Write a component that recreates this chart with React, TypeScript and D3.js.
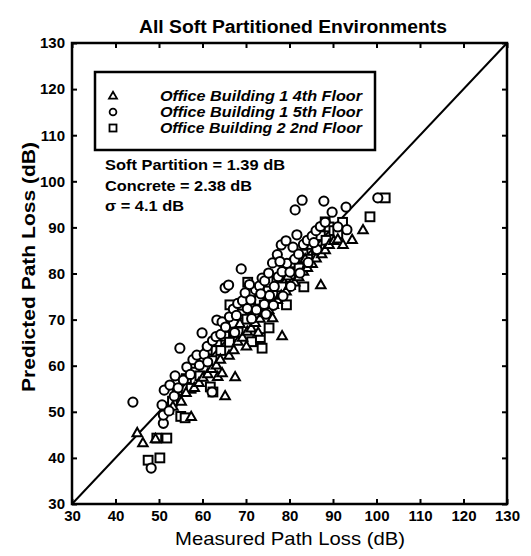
import React, { useRef, useEffect } from "react";
import { select, scaleLinear, axisBottom, axisLeft, axisTop, axisRight, line } from "d3";

const title = "All Soft Partitioned Environments";
const xTitle = "Measured Path Loss (dB)";
const yTitle = "Predicted Path Loss (dB)";
const ticks = [30, 40, 50, 60, 70, 80, 90, 100, 110, 120, 130];
const legendLabels = [
  "Office Building 1 4th Floor",
  "Office Building 1 5th Floor",
  "Office Building 2 2nd Floor",
];
const notes = ["Soft Partition = 1.39 dB", "Concrete = 2.38 dB", "σ = 4.1 dB"];

// [measured, predicted]
const floor4: [number, number][] = [
  [45, 45.4], [46.3, 43.2], [49.2, 44.1], [52.1, 50.3], [53.2, 51.1], [54.3, 53.2],
  [55.1, 52.2], [56.2, 54.1], [57.4, 48.9], [58.1, 55.2], [59.2, 56.3], [60.1, 57.4],
  [61.2, 58.2], [62.1, 59.3], [63.2, 60.1], [63.5, 57.6], [64.1, 61.3], [64.5, 58.4],
  [65.2, 53.4], [66.1, 62.2], [67.5, 57.5], [67.2, 63.4], [68.1, 65.2], [69.2, 66.1],
  [70.1, 64.2], [70.3, 67.4], [71.2, 68.1], [72.1, 69.3], [73.2, 70.2], [74.1, 71.4],
  [75.2, 72.1], [76.1, 70.3], [76.3, 73.2], [77.2, 74.3], [78.1, 75.2], [78.3, 66.4],
  [79.2, 76.1], [80.1, 77.3], [81.2, 78.1], [82.1, 79.2], [83.2, 80.4], [84.1, 81.2],
  [85.2, 82.1], [86.1, 83.3], [87.2, 77.5], [87.4, 84.2], [88.2, 85.1], [89.1, 86.2],
  [90.2, 87.1], [91.1, 87.4], [92.3, 86.2], [94.4, 87.3], [96.9, 89.4],
  [68.6, 69.1], [72.8, 67.2], [75.6, 74.8], [79.6, 79.4], [83.6, 83.1],
];

const floor5: [number, number][] = [
  [44, 52.1], [48.2, 37.8], [50.7, 51.5], [51, 47.5], [51, 49.3], [51.2, 54.7],
  [52.5, 55.8], [53.7, 57.8], [52.3, 50.2], [53.5, 53.4], [54.4, 55.2], [54.8, 63.8],
  [55.6, 56.9], [56.4, 59.7], [57.2, 58.1], [57.8, 61.3], [58.7, 62.3], [59.3, 60.1],
  [59.9, 67.1], [60.4, 62.5], [61.1, 64.2], [61.2, 60.8], [62.2, 54.3], [62.3, 65.4],
  [63.1, 66.3], [63.3, 69.9], [64.2, 66.8], [64.5, 69.5], [65.2, 76.9], [65.3, 68.4],
  [66, 77.5], [66.2, 70.6], [67.1, 72.3], [67.4, 67.2], [68.1, 73.5], [68.9, 81],
  [69.2, 74.1], [69.8, 75.8], [70.3, 72.4], [71.1, 74.3], [71.3, 70.2], [72.2, 76.5],
  [72.4, 72.1], [73.1, 77.3], [73.7, 79], [74.2, 73.3], [74.3, 78.4], [74.6, 71.2],
  [75.2, 80.1], [75.4, 75.2], [76.1, 82.3], [76.3, 73.1], [76.5, 77.2], [77.2, 84.1],
  [77.4, 79.3], [78.1, 86.2], [78.3, 80.4], [78.5, 75.1], [79.2, 87.1], [79.4, 82.2],
  [80.1, 80.3], [80.3, 77.2], [80.8, 85.7], [81.3, 93.8], [81.2, 83.1], [82.1, 84.2],
  [82.4, 80.1], [82.9, 95.9], [83.2, 86.3], [84.1, 87.2], [84.3, 82.4], [85.2, 88.1],
  [86.1, 89.3], [86.3, 85.2], [87.1, 90.2], [87.9, 95.7], [88.2, 91.1], [89.8, 93.3],
  [91.1, 90.1], [93, 94.4], [93.2, 89.5], [100.3, 96.4],
  [67.8, 70.9], [70.8, 77.6], [73.4, 75.6], [77.8, 82.6], [81.7, 88.4], [85.6, 86.7],
];

const floor2: [number, number][] = [
  [47.5, 39.5], [49.5, 44.3], [50.2, 40], [51.8, 44.3], [53.1, 52.3], [54.2, 54.6],
  [55, 49], [56, 48.7], [56.3, 57.2], [57.4, 55.1], [58.2, 58.6], [59.4, 57.8],
  [60.3, 61.2], [61.1, 63.4], [61.8, 55.4], [62.4, 54.3], [62.2, 61.1], [63.3, 65.2],
  [64.2, 63.3], [65.1, 66.4], [66.2, 65.1], [66.3, 73.2], [67.1, 69.2], [68.2, 67.3],
  [69.1, 71.2], [70.2, 70.1], [70.4, 78.1], [71.1, 72.3], [71.3, 65.2], [72.2, 71.1],
  [73.1, 74.2], [73.3, 66.1], [73.7, 63.8], [74.2, 73.1], [75.1, 76.2], [75.3, 68.2],
  [76.2, 75.3], [77.1, 78.4], [78.2, 77.1], [79.1, 80.3], [79.3, 73.2], [80.2, 79.1],
  [81.1, 82.3], [82.2, 81.2], [83.1, 84.2], [83.3, 77.1], [84.2, 83.1], [85.1, 86.3],
  [86.2, 85.1], [87.1, 88.2], [88.2, 91.2], [88.4, 87.2], [89.1, 90.1], [90.2, 89.3],
  [91.1, 88.6], [92.2, 91.1], [98.5, 92.3], [102, 96.4],
];

const diagonal: [number, number][] = [[30, 30], [130, 130]];

const width = 531;
const height = 556;
const margin = { top: 43, right: 24, bottom: 52, left: 72 };
const font = "'Liberation Sans', Arial, sans-serif";

function triPath(x: number, y: number, s: number) {
  const h = s * 0.87;
  return `M${x},${y - h * 0.62}L${x + s / 2},${y + h * 0.38}L${x - s / 2},${y + h * 0.38}Z`;
}

function ScatterChart() {
  const svgRef = useRef<SVGSVGElement>(null);

  useEffect(() => {
    const svg = select(svgRef.current);
    svg.selectAll("*").remove();

    const xScale = scaleLinear().domain([30, 130]).range([margin.left, width - margin.right]);
    const yScale = scaleLinear().domain([30, 130]).range([height - margin.bottom, margin.top]);
    const x0 = margin.left;
    const x1 = width - margin.right;
    const y0 = height - margin.bottom;
    const y1 = margin.top;

    // axes with inward ticks
    const g = svg.append("g").attr("font-family", font);
    g.append("g")
      .attr("transform", `translate(0,${y0})`)
      .call(axisBottom(xScale).tickValues(ticks).tickSize(-5).tickPadding(6).tickFormat((d) => `${d}`));
    g.append("g")
      .attr("transform", `translate(${x0},0)`)
      .call(axisLeft(yScale).tickValues(ticks).tickSize(-5).tickPadding(7).tickFormat((d) => `${d}`));
    g.append("g")
      .attr("transform", `translate(0,${y1})`)
      .call(axisTop(xScale).tickValues(ticks).tickSize(-5).tickFormat(() => ""));
    g.append("g")
      .attr("transform", `translate(${x1},0)`)
      .call(axisRight(yScale).tickValues(ticks).tickSize(-5).tickFormat(() => ""));
    g.selectAll(".domain").remove();
    g.selectAll(".tick line").attr("stroke", "#000").attr("stroke-width", 2);
    g.selectAll(".tick text")
      .attr("fill", "#000")
      .attr("font-size", 15)
      .attr("font-weight", "bold");

    svg
      .append("rect")
      .attr("x", x0)
      .attr("y", y1)
      .attr("width", x1 - x0)
      .attr("height", y0 - y1)
      .attr("fill", "none")
      .attr("stroke", "#000")
      .attr("stroke-width", 2.5);

    const diag = line<[number, number]>()
      .x((d) => xScale(d[0]))
      .y((d) => yScale(d[1]));
    svg
      .append("path")
      .attr("d", diag(diagonal))
      .attr("fill", "none")
      .attr("stroke", "#000")
      .attr("stroke-width", 2);

    // points
    const pts = svg.append("g").attr("fill", "#fff").attr("stroke", "#000").attr("stroke-width", 2);
    pts
      .selectAll(".sq")
      .data(floor2)
      .join("rect")
      .attr("class", "sq")
      .attr("x", (d) => xScale(d[0]) - 4.4)
      .attr("y", (d) => yScale(d[1]) - 4.4)
      .attr("width", 8.8)
      .attr("height", 8.8);
    pts
      .selectAll(".tri")
      .data(floor4)
      .join("path")
      .attr("class", "tri")
      .attr("d", (d) => triPath(xScale(d[0]), yScale(d[1]), 9.5));
    pts
      .selectAll(".circ")
      .data(floor5)
      .join("circle")
      .attr("class", "circ")
      .attr("cx", (d) => xScale(d[0]))
      .attr("cy", (d) => yScale(d[1]))
      .attr("r", 4.6);

    // legend
    const legend = svg.append("g");
    legend
      .append("rect")
      .attr("x", 95)
      .attr("y", 72)
      .attr("width", 280)
      .attr("height", 78)
      .attr("fill", "#fff")
      .attr("stroke", "#000")
      .attr("stroke-width", 2.5);
    legendLabels.forEach((label, i) => {
      const cy = 96 + i * 16;
      if (i === 0) {
        legend.append("path").attr("d", triPath(113, cy, 8)).attr("fill", "#fff").attr("stroke", "#000").attr("stroke-width", 1.8);
      } else if (i === 1) {
        legend.append("circle").attr("cx", 113).attr("cy", cy).attr("r", 3.4).attr("fill", "#fff").attr("stroke", "#000").attr("stroke-width", 1.8);
      } else {
        legend.append("rect").attr("x", 109.5).attr("y", cy - 3.5).attr("width", 7).attr("height", 7).attr("fill", "#fff").attr("stroke", "#000").attr("stroke-width", 1.8);
      }
      legend
        .append("text")
        .attr("x", 160)
        .attr("y", cy + 5)
        .attr("font-family", font)
        .attr("font-size", 14)
        .attr("font-weight", "bold")
        .attr("font-style", "italic")
        .attr("textLength", 202)
        .attr("lengthAdjust", "spacingAndGlyphs")
        .text(label);
    });

    const noteLens = [180, 147, 79];
    notes.forEach((n, i) => {
      svg
        .append("text")
        .attr("x", 105)
        .attr("y", 170 + i * 20.5)
        .attr("font-family", font)
        .attr("font-size", 14.5)
        .attr("font-weight", "bold")
        .attr("textLength", noteLens[i])
        .attr("lengthAdjust", "spacingAndGlyphs")
        .text(n);
    });

    svg
      .append("text")
      .attr("x", 293)
      .attr("y", 33)
      .attr("text-anchor", "middle")
      .attr("font-family", font)
      .attr("font-size", 18)
      .attr("font-weight", "bold")
      .attr("textLength", 308)
      .attr("lengthAdjust", "spacingAndGlyphs")
      .text(title);

    svg
      .append("text")
      .attr("x", 290)
      .attr("y", 545)
      .attr("text-anchor", "middle")
      .attr("font-family", font)
      .attr("font-size", 19)
      .attr("textLength", 230)
      .attr("lengthAdjust", "spacingAndGlyphs")
      .text(xTitle);

    svg
      .append("text")
      .attr("transform", `translate(35,267) rotate(-90)`)
      .attr("text-anchor", "middle")
      .attr("font-family", font)
      .attr("font-size", 18)
      .attr("font-weight", "bold")
      .attr("textLength", 250)
      .attr("lengthAdjust", "spacingAndGlyphs")
      .text(yTitle);
  }, []);

  return (
    <svg
      ref={svgRef}
      width={width}
      height={height}
      style={{ position: "absolute", left: 0, top: 0, background: "#fff" }}
    />
  );
}

export default function App() {
  return <ScatterChart />;
}
